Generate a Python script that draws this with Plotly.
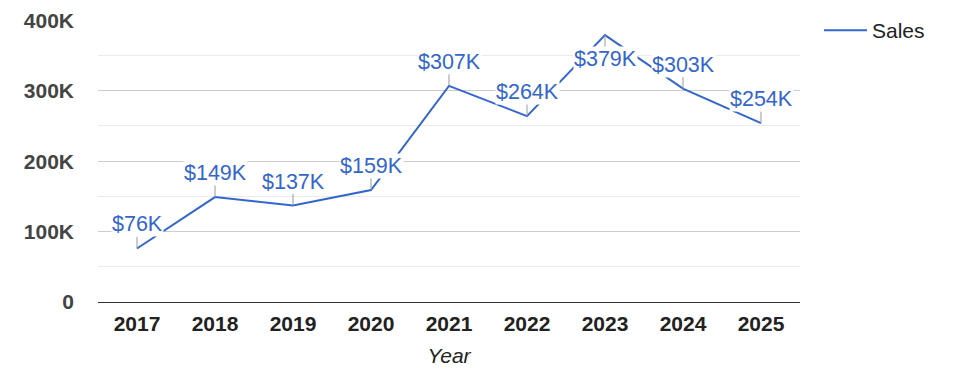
import plotly.graph_objects as go

years = ["2017", "2018", "2019", "2020", "2021", "2022", "2023", "2024", "2025"]
sales = [76000, 149000, 137000, 159000, 307000, 264000, 379000, 303000, 254000]
labels = ["$76K", "$149K", "$137K", "$159K", "$307K", "$264K", "$379K", "$303K", "$254K"]
label_below = [False, False, False, False, False, False, True, False, False]
y_ticks = [0, 100000, 200000, 300000, 400000]
y_tick_text = ["0", "100K", "200K", "300K", "400K"]

FONT = "Arial, 'Liberation Sans', sans-serif"
BLUE = "#3366cc"

fig = go.Figure()
fig.add_trace(go.Scatter(
    x=years, y=sales, mode="lines", name="Sales",
    line=dict(color=BLUE, width=2), hoverinfo="skip",
))

annotations = []
for i, (y, t, below) in enumerate(zip(sales, labels, label_below)):
    annotations.append(dict(
        x=i, y=y, xref="x", yref="y", text=t,
        showarrow=True, arrowhead=0, arrowwidth=1, arrowcolor="#999999",
        ax=0, ay=24 if below else -24,
        font=dict(family=FONT, size=21.5, color=BLUE),
        bgcolor="white", borderpad=0,
    ))

fig.update_layout(
    width=967, height=370,
    margin=dict(l=90, r=175, t=12, b=76, autoexpand=False),
    paper_bgcolor="white", plot_bgcolor="white",
    font=dict(family=FONT),
    showlegend=True,
    legend=dict(
        x=1.027, y=1.035, xanchor="left", yanchor="top",
        itemwidth=43,
        font=dict(family=FONT, size=21, color="#222222"),
        bgcolor="rgba(0,0,0,0)", borderwidth=0,
    ),
    xaxis=dict(
        type="category", range=[-0.5, 8.5], automargin=False,
        showgrid=False, zeroline=False, showline=False, ticks="",
        tickfont=dict(family=FONT, size=21, color="#222222", weight="bold"),
        ticklabelstandoff=7,
        title=dict(text="<i>Year</i>", font=dict(family=FONT, size=21, color="#222222"), standoff=14),
    ),
    yaxis=dict(
        range=[0, 400500], automargin=False,
        tickvals=y_ticks, ticktext=y_tick_text,
        showgrid=True, gridcolor="#cccccc", gridwidth=1,
        minor=dict(dtick=50000, showgrid=True, gridcolor="#ebebeb", gridwidth=1),
        zeroline=True, zerolinecolor="#333333", zerolinewidth=1,
        showline=False, ticks="",
        tickfont=dict(family=FONT, size=21, color="#444444", weight="bold"),
        ticklabelstandoff=23,
    ),
    annotations=annotations,
)

fig.write_html("out.html")
